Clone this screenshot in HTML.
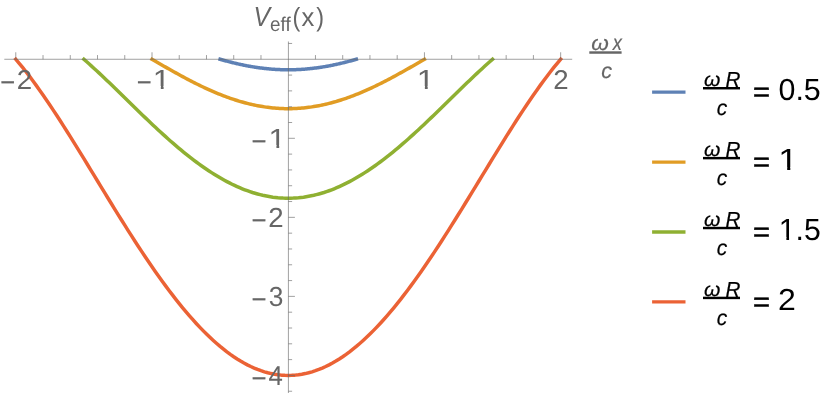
<!DOCTYPE html>
<html><head><meta charset="utf-8"><title>Veff(x)</title>
<style>
html,body{margin:0;padding:0;background:#fff;overflow:hidden;}
svg{display:block;font-family:"Liberation Sans",sans-serif;will-change:transform;text-rendering:geometricPrecision;}
</style></head>
<body>
<svg width="830" height="398" viewBox="0 0 830 398">
<rect width="830" height="398" fill="#ffffff"/>
<g fill="none" stroke-width="3.5" stroke-linejoin="round" stroke-linecap="square">
<path d="M220.11 59.27 L220.96 59.52 L221.81 59.76 L222.66 60.00 L223.52 60.24 L224.37 60.48 L225.22 60.71 L226.07 60.94 L226.92 61.17 L227.77 61.40 L228.62 61.62 L229.48 61.84 L230.33 62.06 L231.18 62.28 L232.03 62.49 L232.88 62.70 L233.73 62.91 L234.58 63.11 L235.43 63.31 L236.29 63.51 L237.14 63.71 L237.99 63.90 L238.84 64.10 L239.69 64.28 L240.54 64.47 L241.39 64.65 L242.25 64.83 L243.10 65.01 L243.95 65.18 L244.80 65.35 L245.65 65.52 L246.50 65.68 L247.35 65.85 L248.21 66.00 L249.06 66.16 L249.91 66.31 L250.76 66.46 L251.61 66.61 L252.46 66.75 L253.31 66.89 L254.17 67.03 L255.02 67.16 L255.87 67.29 L256.72 67.42 L257.57 67.54 L258.42 67.66 L259.27 67.78 L260.12 67.89 L260.98 68.00 L261.83 68.11 L262.68 68.22 L263.53 68.32 L264.38 68.42 L265.23 68.51 L266.08 68.60 L266.94 68.69 L267.79 68.77 L268.64 68.85 L269.49 68.93 L270.34 69.00 L271.19 69.08 L272.04 69.14 L272.90 69.21 L273.75 69.27 L274.60 69.32 L275.45 69.38 L276.30 69.43 L277.15 69.47 L278.00 69.52 L278.85 69.56 L279.71 69.59 L280.56 69.63 L281.41 69.66 L282.26 69.68 L283.11 69.70 L283.96 69.72 L284.81 69.74 L285.67 69.75 L286.52 69.76 L287.37 69.77 L288.22 69.77 L289.07 69.77 L289.92 69.76 L290.77 69.75 L291.63 69.74 L292.48 69.72 L293.33 69.70 L294.18 69.68 L295.03 69.66 L295.88 69.63 L296.73 69.59 L297.59 69.56 L298.44 69.52 L299.29 69.47 L300.14 69.43 L300.99 69.38 L301.84 69.32 L302.69 69.27 L303.54 69.21 L304.40 69.14 L305.25 69.08 L306.10 69.00 L306.95 68.93 L307.80 68.85 L308.65 68.77 L309.50 68.69 L310.36 68.60 L311.21 68.51 L312.06 68.42 L312.91 68.32 L313.76 68.22 L314.61 68.11 L315.46 68.00 L316.32 67.89 L317.17 67.78 L318.02 67.66 L318.87 67.54 L319.72 67.42 L320.57 67.29 L321.42 67.16 L322.28 67.03 L323.13 66.89 L323.98 66.75 L324.83 66.61 L325.68 66.46 L326.53 66.31 L327.38 66.16 L328.23 66.00 L329.09 65.85 L329.94 65.68 L330.79 65.52 L331.64 65.35 L332.49 65.18 L333.34 65.01 L334.19 64.83 L335.05 64.65 L335.90 64.47 L336.75 64.28 L337.60 64.10 L338.45 63.90 L339.30 63.71 L340.15 63.51 L341.01 63.31 L341.86 63.11 L342.71 62.91 L343.56 62.70 L344.41 62.49 L345.26 62.28 L346.11 62.06 L346.96 61.84 L347.82 61.62 L348.67 61.40 L349.52 61.17 L350.37 60.94 L351.22 60.71 L352.07 60.48 L352.92 60.24 L353.78 60.00 L354.63 59.76 L355.48 59.52 L356.33 59.27" stroke="#5E81B5"/>
<path d="M152.00 59.27 L153.70 60.26 L155.41 61.25 L157.11 62.23 L158.81 63.22 L160.51 64.20 L162.22 65.18 L163.92 66.16 L165.62 67.14 L167.32 68.11 L169.03 69.08 L170.73 70.04 L172.43 71.00 L174.14 71.95 L175.84 72.90 L177.54 73.84 L179.24 74.78 L180.95 75.71 L182.65 76.63 L184.35 77.54 L186.06 78.45 L187.76 79.35 L189.46 80.24 L191.16 81.12 L192.87 81.99 L194.57 82.86 L196.27 83.71 L197.97 84.55 L199.68 85.39 L201.38 86.21 L203.08 87.02 L204.79 87.82 L206.49 88.61 L208.19 89.39 L209.89 90.15 L211.60 90.90 L213.30 91.64 L215.00 92.37 L216.70 93.08 L218.41 93.78 L220.11 94.47 L221.81 95.14 L223.52 95.80 L225.22 96.44 L226.92 97.07 L228.62 97.69 L230.33 98.28 L232.03 98.87 L233.73 99.44 L235.43 99.99 L237.14 100.53 L238.84 101.05 L240.54 101.56 L242.25 102.05 L243.95 102.52 L245.65 102.98 L247.35 103.41 L249.06 103.84 L250.76 104.24 L252.46 104.63 L254.17 105.00 L255.87 105.36 L257.57 105.69 L259.27 106.01 L260.98 106.31 L262.68 106.60 L264.38 106.86 L266.08 107.11 L267.79 107.34 L269.49 107.55 L271.19 107.75 L272.90 107.92 L274.60 108.08 L276.30 108.22 L278.00 108.34 L279.71 108.44 L281.41 108.52 L283.11 108.59 L284.81 108.63 L286.52 108.66 L288.22 108.67 L289.92 108.66 L291.63 108.63 L293.33 108.59 L295.03 108.52 L296.73 108.44 L298.44 108.34 L300.14 108.22 L301.84 108.08 L303.54 107.92 L305.25 107.75 L306.95 107.55 L308.65 107.34 L310.36 107.11 L312.06 106.86 L313.76 106.60 L315.46 106.31 L317.17 106.01 L318.87 105.69 L320.57 105.36 L322.28 105.00 L323.98 104.63 L325.68 104.24 L327.38 103.84 L329.09 103.41 L330.79 102.98 L332.49 102.52 L334.19 102.05 L335.90 101.56 L337.60 101.05 L339.30 100.53 L341.01 99.99 L342.71 99.44 L344.41 98.87 L346.11 98.28 L347.82 97.69 L349.52 97.07 L351.22 96.44 L352.92 95.80 L354.63 95.14 L356.33 94.47 L358.03 93.78 L359.74 93.08 L361.44 92.37 L363.14 91.64 L364.84 90.90 L366.55 90.15 L368.25 89.39 L369.95 88.61 L371.65 87.82 L373.36 87.02 L375.06 86.21 L376.76 85.39 L378.47 84.55 L380.17 83.71 L381.87 82.86 L383.57 81.99 L385.28 81.12 L386.98 80.24 L388.68 79.35 L390.38 78.45 L392.09 77.54 L393.79 76.63 L395.49 75.71 L397.20 74.78 L398.90 73.84 L400.60 72.90 L402.30 71.95 L404.01 71.00 L405.71 70.04 L407.41 69.08 L409.12 68.11 L410.82 67.14 L412.52 66.16 L414.22 65.18 L415.93 64.20 L417.63 63.22 L419.33 62.23 L421.03 61.25 L422.74 60.26 L424.44 59.27" stroke="#E19C24"/>
<path d="M83.89 59.27 L86.44 61.51 L89.00 63.78 L91.55 66.08 L94.11 68.42 L96.66 70.77 L99.21 73.15 L101.77 75.55 L104.32 77.97 L106.88 80.41 L109.43 82.86 L111.99 85.32 L114.54 87.80 L117.09 90.28 L119.65 92.77 L122.20 95.27 L124.76 97.76 L127.31 100.26 L129.86 102.76 L132.42 105.26 L134.97 107.75 L137.53 110.23 L140.08 112.71 L142.63 115.17 L145.19 117.63 L147.74 120.07 L150.30 122.50 L152.85 124.91 L155.41 127.30 L157.96 129.68 L160.51 132.03 L163.07 134.36 L165.62 136.67 L168.18 138.95 L170.73 141.20 L173.28 143.43 L175.84 145.63 L178.39 147.79 L180.95 149.93 L183.50 152.03 L186.06 154.09 L188.61 156.13 L191.16 158.12 L193.72 160.08 L196.27 162.00 L198.83 163.87 L201.38 165.71 L203.93 167.50 L206.49 169.26 L209.04 170.96 L211.60 172.62 L214.15 174.24 L216.70 175.81 L219.26 177.33 L221.81 178.81 L224.37 180.23 L226.92 181.61 L229.48 182.93 L232.03 184.20 L234.58 185.42 L237.14 186.59 L239.69 187.71 L242.25 188.77 L244.80 189.78 L247.35 190.73 L249.91 191.63 L252.46 192.47 L255.02 193.25 L257.57 193.98 L260.12 194.65 L262.68 195.27 L265.23 195.82 L267.79 196.32 L270.34 196.76 L272.90 197.15 L275.45 197.47 L278.00 197.74 L280.56 197.94 L283.11 198.09 L285.67 198.18 L288.22 198.21 L290.77 198.18 L293.33 198.09 L295.88 197.94 L298.44 197.74 L300.99 197.47 L303.54 197.15 L306.10 196.76 L308.65 196.32 L311.21 195.82 L313.76 195.27 L316.32 194.65 L318.87 193.98 L321.42 193.25 L323.98 192.47 L326.53 191.63 L329.09 190.73 L331.64 189.78 L334.19 188.77 L336.75 187.71 L339.30 186.59 L341.86 185.42 L344.41 184.20 L346.96 182.93 L349.52 181.61 L352.07 180.23 L354.63 178.81 L357.18 177.33 L359.74 175.81 L362.29 174.24 L364.84 172.62 L367.40 170.96 L369.95 169.26 L372.51 167.50 L375.06 165.71 L377.61 163.87 L380.17 162.00 L382.72 160.08 L385.28 158.12 L387.83 156.13 L390.38 154.09 L392.94 152.03 L395.49 149.93 L398.05 147.79 L400.60 145.63 L403.16 143.43 L405.71 141.20 L408.26 138.95 L410.82 136.67 L413.37 134.36 L415.93 132.03 L418.48 129.68 L421.03 127.30 L423.59 124.91 L426.14 122.50 L428.70 120.07 L431.25 117.63 L433.81 115.17 L436.36 112.71 L438.91 110.23 L441.47 107.75 L444.02 105.26 L446.58 102.76 L449.13 100.26 L451.68 97.76 L454.24 95.27 L456.79 92.77 L459.35 90.28 L461.90 87.80 L464.45 85.32 L467.01 82.86 L469.56 80.41 L472.12 77.97 L474.67 75.55 L477.23 73.15 L479.78 70.77 L482.33 68.42 L484.89 66.08 L487.44 63.78 L490.00 61.51 L492.55 59.27" stroke="#8FB032"/>
<path d="M15.78 59.27 L19.19 63.29 L22.59 67.46 L26.00 71.76 L29.40 76.19 L32.81 80.73 L36.21 85.39 L39.62 90.15 L43.02 95.01 L46.43 99.97 L49.84 105.00 L53.24 110.12 L56.65 115.31 L60.05 120.57 L63.46 125.88 L66.86 131.25 L70.27 136.67 L73.67 142.12 L77.08 147.62 L80.48 153.14 L83.89 158.69 L87.30 164.25 L90.70 169.83 L94.11 175.42 L97.51 181.01 L100.92 186.59 L104.32 192.17 L107.73 197.74 L111.13 203.28 L114.54 208.81 L117.95 214.30 L121.35 219.76 L124.76 225.19 L128.16 230.58 L131.57 235.91 L134.97 241.20 L138.38 246.44 L141.78 251.61 L145.19 256.73 L148.59 261.77 L152.00 266.75 L155.41 271.65 L158.81 276.48 L162.22 281.22 L165.62 285.88 L169.03 290.45 L172.43 294.93 L175.84 299.31 L179.24 303.60 L182.65 307.78 L186.06 311.87 L189.46 315.84 L192.87 319.71 L196.27 323.46 L199.68 327.10 L203.08 330.63 L206.49 334.03 L209.89 337.31 L213.30 340.47 L216.70 343.50 L220.11 346.41 L223.52 349.18 L226.92 351.83 L230.33 354.34 L233.73 356.71 L237.14 358.95 L240.54 361.05 L243.95 363.02 L247.35 364.84 L250.76 366.52 L254.17 368.06 L257.57 369.45 L260.98 370.70 L264.38 371.81 L267.79 372.77 L271.19 373.58 L274.60 374.25 L278.00 374.76 L281.41 375.13 L284.81 375.36 L288.22 375.43 L291.63 375.36 L295.03 375.13 L298.44 374.76 L301.84 374.25 L305.25 373.58 L308.65 372.77 L312.06 371.81 L315.46 370.70 L318.87 369.45 L322.28 368.06 L325.68 366.52 L329.09 364.84 L332.49 363.02 L335.90 361.05 L339.30 358.95 L342.71 356.71 L346.11 354.34 L349.52 351.83 L352.92 349.18 L356.33 346.41 L359.74 343.50 L363.14 340.47 L366.55 337.31 L369.95 334.03 L373.36 330.63 L376.76 327.10 L380.17 323.46 L383.57 319.71 L386.98 315.84 L390.38 311.87 L393.79 307.78 L397.20 303.60 L400.60 299.31 L404.01 294.93 L407.41 290.45 L410.82 285.88 L414.22 281.22 L417.63 276.48 L421.03 271.65 L424.44 266.75 L427.85 261.77 L431.25 256.73 L434.66 251.61 L438.06 246.44 L441.47 241.20 L444.87 235.91 L448.28 230.58 L451.68 225.19 L455.09 219.76 L458.50 214.30 L461.90 208.81 L465.31 203.28 L468.71 197.74 L472.12 192.17 L475.52 186.59 L478.93 181.01 L482.33 175.42 L485.74 169.83 L489.14 164.25 L492.55 158.69 L495.96 153.14 L499.36 147.62 L502.77 142.12 L506.17 136.67 L509.58 131.25 L512.98 125.88 L516.39 120.57 L519.79 115.31 L523.20 110.12 L526.61 105.00 L530.01 99.97 L533.42 95.01 L536.82 90.15 L540.23 85.39 L543.63 80.73 L547.04 76.19 L550.44 71.76 L553.85 67.46 L557.25 63.29 L560.66 59.27" stroke="#EB6235"/>
</g>
<g stroke="#666666" stroke-width="0.62" fill="none">
<line x1="4.3" y1="59.27" x2="572.2" y2="59.27"/>
<line x1="288.42" y1="41.5" x2="288.42" y2="393"/>
<line x1="15.78" y1="59.27" x2="15.78" y2="52.27"/>
<line x1="43.02" y1="59.27" x2="43.02" y2="55.07"/>
<line x1="70.27" y1="59.27" x2="70.27" y2="55.07"/>
<line x1="97.51" y1="59.27" x2="97.51" y2="55.07"/>
<line x1="124.76" y1="59.27" x2="124.76" y2="55.07"/>
<line x1="152.0" y1="59.27" x2="152.0" y2="52.27"/>
<line x1="179.24" y1="59.27" x2="179.24" y2="55.07"/>
<line x1="206.49" y1="59.27" x2="206.49" y2="55.07"/>
<line x1="233.73" y1="59.27" x2="233.73" y2="55.07"/>
<line x1="260.98" y1="59.27" x2="260.98" y2="55.07"/>
<line x1="315.46" y1="59.27" x2="315.46" y2="55.07"/>
<line x1="342.71" y1="59.27" x2="342.71" y2="55.07"/>
<line x1="369.95" y1="59.27" x2="369.95" y2="55.07"/>
<line x1="397.2" y1="59.27" x2="397.2" y2="55.07"/>
<line x1="424.44" y1="59.27" x2="424.44" y2="52.27"/>
<line x1="451.68" y1="59.27" x2="451.68" y2="55.07"/>
<line x1="478.93" y1="59.27" x2="478.93" y2="55.07"/>
<line x1="506.17" y1="59.27" x2="506.17" y2="55.07"/>
<line x1="533.42" y1="59.27" x2="533.42" y2="55.07"/>
<line x1="560.66" y1="59.27" x2="560.66" y2="52.27"/>
<line x1="288.42" y1="391.24" x2="292.12" y2="391.24"/>
<line x1="288.42" y1="375.43" x2="294.92" y2="375.43"/>
<line x1="288.42" y1="359.62" x2="292.12" y2="359.62"/>
<line x1="288.42" y1="343.81" x2="292.12" y2="343.81"/>
<line x1="288.42" y1="328.01" x2="292.12" y2="328.01"/>
<line x1="288.42" y1="312.2" x2="292.12" y2="312.2"/>
<line x1="288.42" y1="296.39" x2="294.92" y2="296.39"/>
<line x1="288.42" y1="280.58" x2="292.12" y2="280.58"/>
<line x1="288.42" y1="264.77" x2="292.12" y2="264.77"/>
<line x1="288.42" y1="248.97" x2="292.12" y2="248.97"/>
<line x1="288.42" y1="233.16" x2="292.12" y2="233.16"/>
<line x1="288.42" y1="217.35" x2="294.92" y2="217.35"/>
<line x1="288.42" y1="201.54" x2="292.12" y2="201.54"/>
<line x1="288.42" y1="185.73" x2="292.12" y2="185.73"/>
<line x1="288.42" y1="169.93" x2="292.12" y2="169.93"/>
<line x1="288.42" y1="154.12" x2="292.12" y2="154.12"/>
<line x1="288.42" y1="138.31" x2="294.92" y2="138.31"/>
<line x1="288.42" y1="122.5" x2="292.12" y2="122.5"/>
<line x1="288.42" y1="106.69" x2="292.12" y2="106.69"/>
<line x1="288.42" y1="90.89" x2="292.12" y2="90.89"/>
<line x1="288.42" y1="75.08" x2="292.12" y2="75.08"/>
<line x1="288.42" y1="43.46" x2="292.12" y2="43.46"/>
</g>
<g fill="#666666" color="#666666">
<text transform="translate(0.24 91) scale(0.9704 1)" font-size="26.3" stroke="currentColor" stroke-width="0.2">−</text>
<text transform="translate(16.81 89.00) scale(1.0218 1)" font-size="27.07">2</text>
<text transform="translate(136.64 91) scale(0.9704 1)" font-size="26.3" stroke="currentColor" stroke-width="0.2">−</text>
<text transform="translate(152.86 89.00) scale(1.1443 1)" font-size="27.62">1</text>
<rect x="153.79" y="86" width="7.02" height="4" fill="#fff"/>
<rect x="163.60" y="86" width="6.85" height="4" fill="#fff"/>
<text transform="translate(416.82 89.00) scale(1.1592 1)" font-size="27.62">1</text>
<rect x="417.76" y="86" width="7.11" height="4" fill="#fff"/>
<rect x="427.70" y="86" width="6.94" height="4" fill="#fff"/>
<text transform="translate(553.21 89.00) scale(1.0218 1)" font-size="27.07">2</text>
<text transform="translate(251.53 150) scale(0.9783 1)" font-size="26.3" stroke="currentColor" stroke-width="0.2">−</text>
<text transform="translate(268.60 148.00) scale(1.1301 1)" font-size="27.60">1</text>
<rect x="269.51" y="145" width="6.93" height="4" fill="#fff"/>
<rect x="279.20" y="145" width="6.76" height="4" fill="#fff"/>
<text transform="translate(251.53 229) scale(0.9783 1)" font-size="26.3" stroke="currentColor" stroke-width="0.2">−</text>
<text transform="translate(268.21 227.00) scale(1.0032 1)" font-size="27.57">2</text>
<text transform="translate(251.53 308) scale(0.9783 1)" font-size="26.3" stroke="currentColor" stroke-width="0.2">−</text>
<text transform="translate(268.70 306.00) scale(0.9583 1)" font-size="27.51">3</text>
<text transform="translate(251.53 387) scale(0.9783 1)" font-size="26.3" stroke="currentColor" stroke-width="0.2">−</text>
<text transform="translate(268.61 385.00) scale(0.9406 1)" font-size="27.43">4</text>
<text transform="translate(253.45 26.00) scale(0.8995 1)" font-size="27.62" font-style="italic">V</text>
<text transform="translate(270.10 31.00) scale(0.9480 1)" font-size="19.90">eff</text>
<text transform="translate(292.45 26.00) scale(0.8918 1)" font-size="26.22">(</text>
<text transform="translate(301.61 26.00) scale(0.9811 1)" font-size="26.12">x</text>
<text transform="translate(316.26 26.00) scale(0.8918 1)" font-size="26.22">)</text>
<text transform="translate(591.16 50.00) scale(1.0838 1)" font-size="20.80" font-style="italic" stroke="currentColor" stroke-width="0.185" stroke-linejoin="round">ω</text>
<text transform="translate(612.84 50.00) scale(0.8473 1)" font-size="21.77" font-style="italic" stroke="currentColor" stroke-width="0.236" stroke-linejoin="round">x</text>
<rect x="589.3" y="51.3" width="32.3" height="2.45"/>
<text transform="translate(601.19 78.00) scale(1.0070 1)" font-size="21.56" font-style="italic" stroke="currentColor" stroke-width="0.199" stroke-linejoin="round">c</text>
</g>
<g fill="#000000" color="#000000">
<line x1="652.1" y1="92.20" x2="685.5" y2="92.20" stroke="#5E81B5" stroke-width="3.3"/>
<text transform="translate(704.11 86.00) scale(1.0669 1)" font-size="19.68" font-style="italic" stroke="currentColor" stroke-width="0.187" stroke-linejoin="round">ω</text>
<text transform="translate(725.47 87.00) scale(0.9442 1)" font-size="21.80" font-style="italic" stroke="currentColor" stroke-width="0.212" stroke-linejoin="round">R</text>
<rect x="703.0" y="87.00" width="37.0" height="2.45"/>
<text transform="translate(716.71 115.00) scale(0.9764 1)" font-size="21.56" font-style="italic" stroke="currentColor" stroke-width="0.205" stroke-linejoin="round">c</text>
<text transform="translate(752.95 101.00) scale(1.0787 1)" font-size="27.00" stroke="currentColor" stroke-width="0.510" stroke-linejoin="round">=</text>
<text transform="translate(778.51 100.00) scale(0.9990 1)" font-size="30.43">0.5</text>
<line x1="652.1" y1="162.10" x2="685.5" y2="162.10" stroke="#E19C24" stroke-width="3.3"/>
<text transform="translate(704.11 156.00) scale(1.0669 1)" font-size="19.68" font-style="italic" stroke="currentColor" stroke-width="0.187" stroke-linejoin="round">ω</text>
<text transform="translate(725.47 157.00) scale(0.9442 1)" font-size="21.80" font-style="italic" stroke="currentColor" stroke-width="0.212" stroke-linejoin="round">R</text>
<rect x="703.0" y="156.90" width="37.0" height="2.45"/>
<text transform="translate(716.71 185.00) scale(0.9764 1)" font-size="21.56" font-style="italic" stroke="currentColor" stroke-width="0.205" stroke-linejoin="round">c</text>
<text transform="translate(752.95 171.00) scale(1.0787 1)" font-size="27.00" stroke="currentColor" stroke-width="0.510" stroke-linejoin="round">=</text>
<text transform="translate(778.30 170.00) scale(1.1509 1)" font-size="30.67">1</text>
<rect x="779.34" y="167" width="7.84" height="4" fill="#fff"/>
<rect x="790.30" y="167" width="7.65" height="4" fill="#fff"/>
<line x1="652.1" y1="232.00" x2="685.5" y2="232.00" stroke="#8FB032" stroke-width="3.3"/>
<text transform="translate(704.11 226.00) scale(1.0669 1)" font-size="19.68" font-style="italic" stroke="currentColor" stroke-width="0.187" stroke-linejoin="round">ω</text>
<text transform="translate(725.47 227.00) scale(0.9442 1)" font-size="21.80" font-style="italic" stroke="currentColor" stroke-width="0.212" stroke-linejoin="round">R</text>
<rect x="703.0" y="226.80" width="37.0" height="2.45"/>
<text transform="translate(716.71 255.00) scale(0.9764 1)" font-size="21.56" font-style="italic" stroke="currentColor" stroke-width="0.205" stroke-linejoin="round">c</text>
<text transform="translate(752.95 241.00) scale(1.0787 1)" font-size="27.00" stroke="currentColor" stroke-width="0.510" stroke-linejoin="round">=</text>
<text transform="translate(778.80 240.00) scale(0.9845 1)" font-size="30.67">1.5</text>
<rect x="779.68" y="237" width="6.71" height="4" fill="#fff"/>
<rect x="789.06" y="237" width="6.55" height="4" fill="#fff"/>
<line x1="652.1" y1="301.90" x2="685.5" y2="301.90" stroke="#EB6235" stroke-width="3.3"/>
<text transform="translate(704.11 296.00) scale(1.0669 1)" font-size="19.68" font-style="italic" stroke="currentColor" stroke-width="0.187" stroke-linejoin="round">ω</text>
<text transform="translate(725.47 297.00) scale(0.9442 1)" font-size="21.80" font-style="italic" stroke="currentColor" stroke-width="0.212" stroke-linejoin="round">R</text>
<rect x="703.0" y="296.70" width="37.0" height="2.45"/>
<text transform="translate(716.71 325.00) scale(0.9764 1)" font-size="21.56" font-style="italic" stroke="currentColor" stroke-width="0.205" stroke-linejoin="round">c</text>
<text transform="translate(752.95 311.00) scale(1.0787 1)" font-size="27.00" stroke="currentColor" stroke-width="0.510" stroke-linejoin="round">=</text>
<text transform="translate(778.09 310.00) scale(1.0530 1)" font-size="30.43">2</text>
</g>
</svg>
</body></html>
